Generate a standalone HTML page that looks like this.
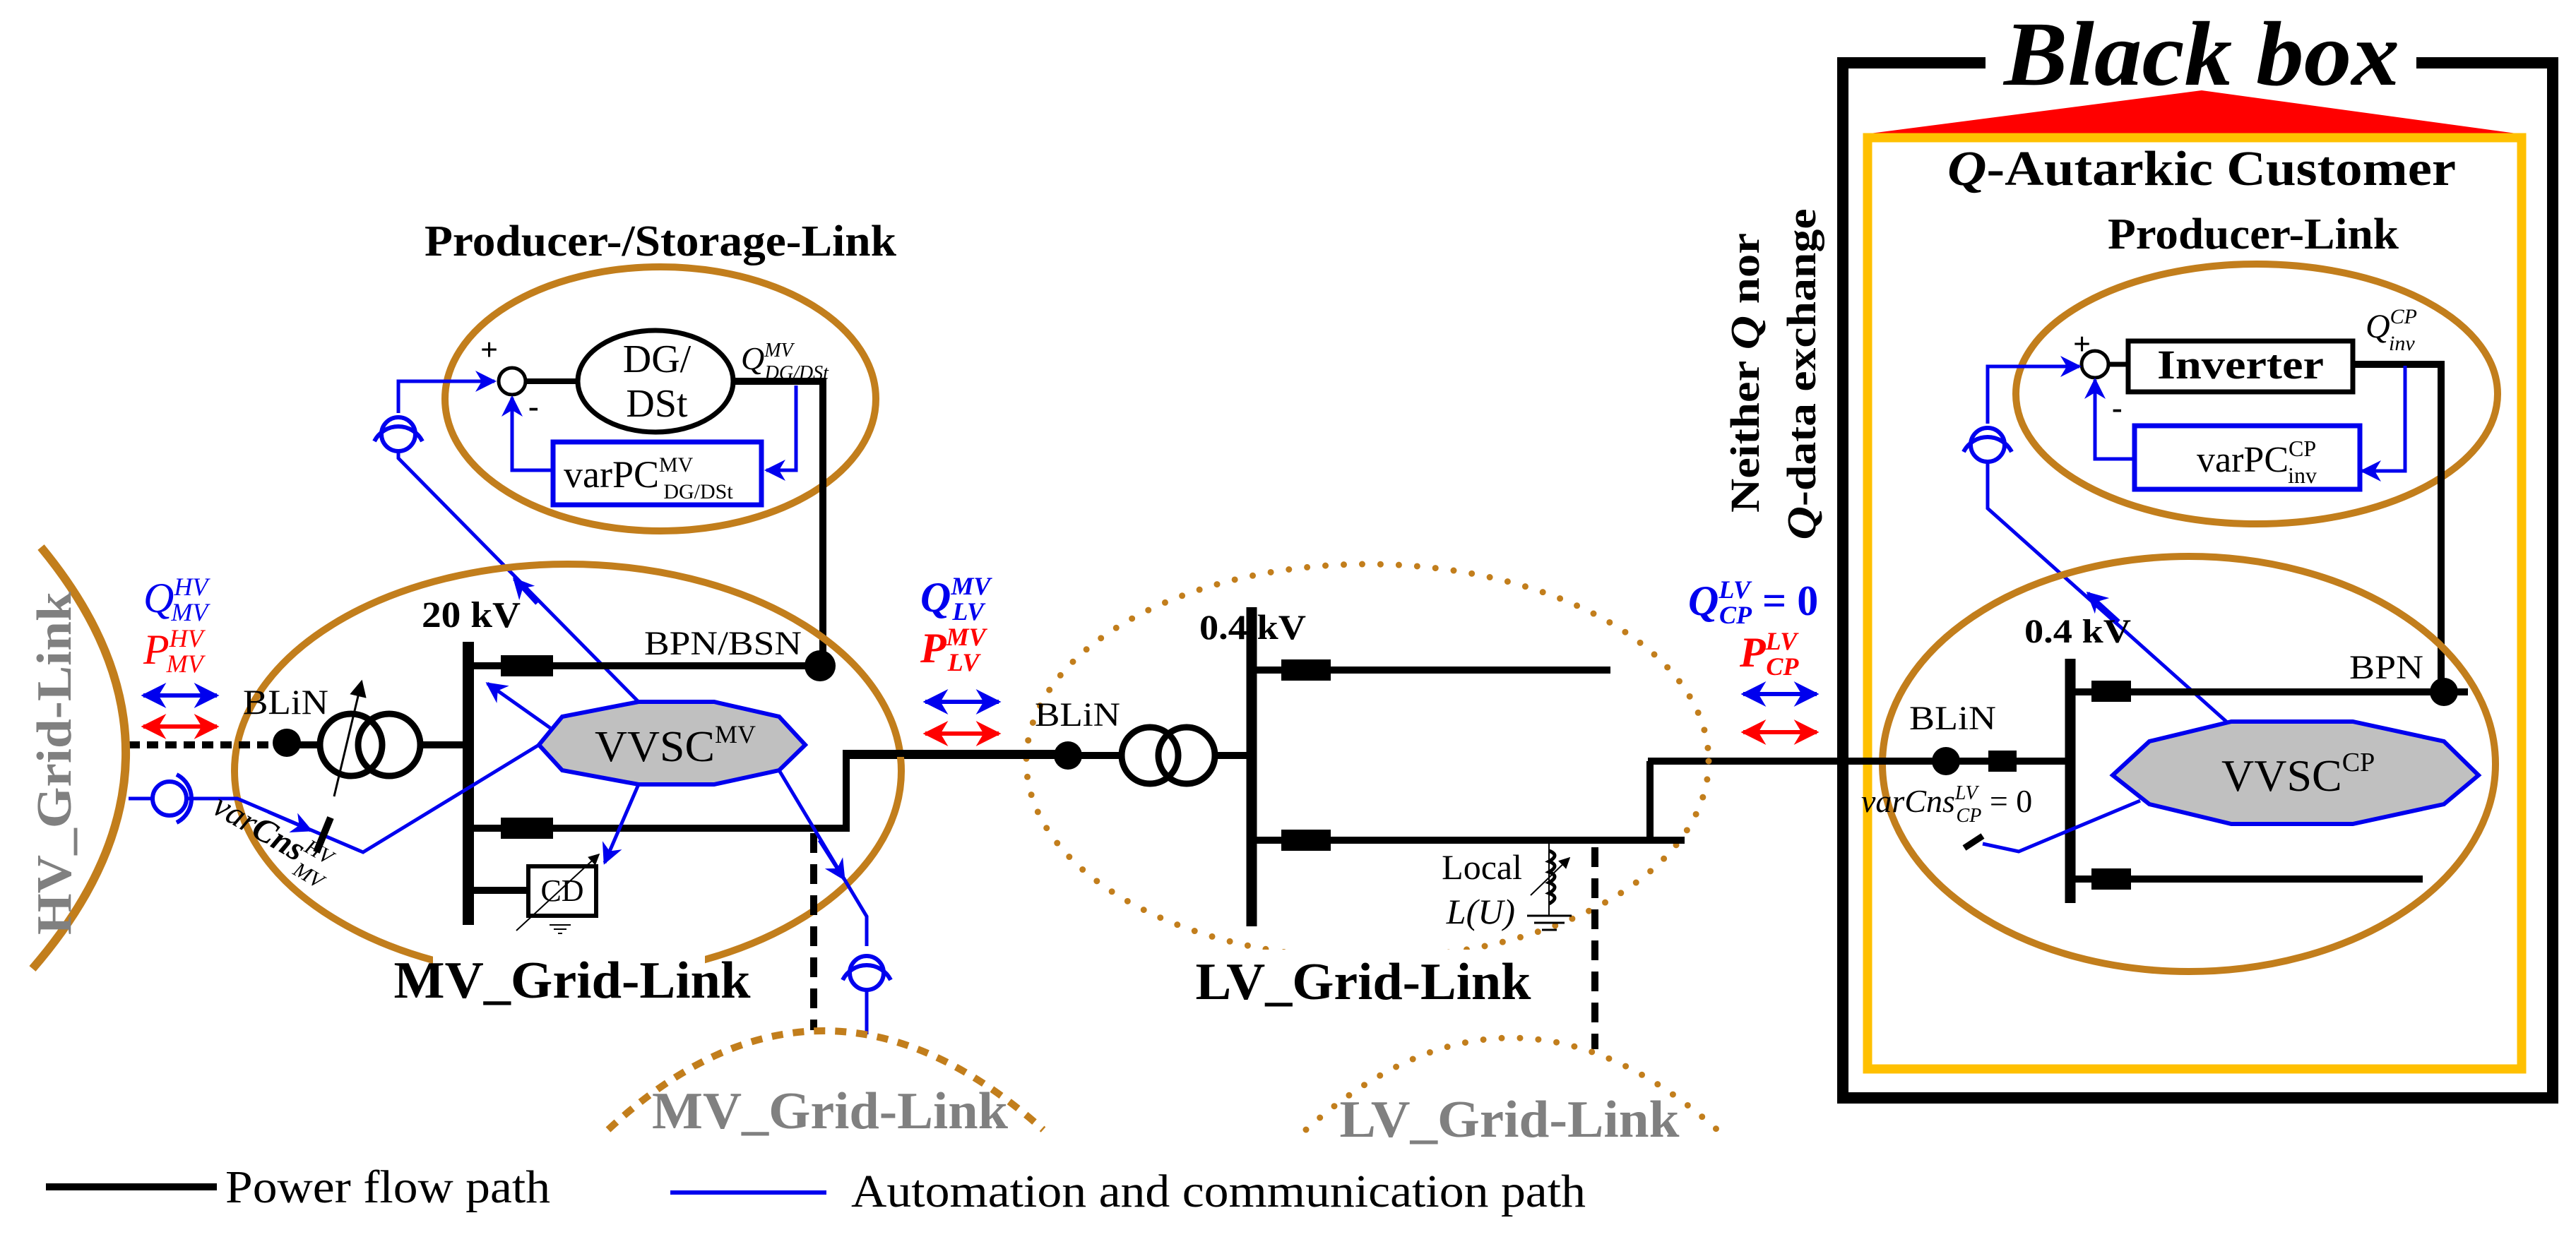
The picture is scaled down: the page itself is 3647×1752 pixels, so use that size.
<!DOCTYPE html>
<html><head><meta charset="utf-8"><style>html,body{margin:0;padding:0;background:#fff}svg{display:block}</style></head>
<body>
<svg xmlns="http://www.w3.org/2000/svg" width="3647" height="1752" viewBox="0 0 3647 1752" font-family="'Liberation Serif', serif">
<defs>
<marker id="ab" viewBox="0 0 10 10" refX="9" refY="5" markerWidth="6" markerHeight="6" orient="auto-start-reverse" markerUnits="strokeWidth"><path d="M0,0 L10,5 L0,10 L3,5 z" fill="#0000EE"/></marker>
<marker id="ar" viewBox="0 0 10 10" refX="9" refY="5" markerWidth="6" markerHeight="6" orient="auto-start-reverse" markerUnits="strokeWidth"><path d="M0,0 L10,5 L0,10 L3,5 z" fill="#FF0000"/></marker>
<marker id="ak" viewBox="0 0 10 10" refX="9" refY="5" markerWidth="8" markerHeight="8" orient="auto" markerUnits="strokeWidth"><path d="M0,0 L10,5 L0,10 z" fill="#000"/></marker>
</defs>

<!-- ===== Black box ===== -->
<path d="M2811,89 H2609 V1555 H3614 V89 H3421" fill="none" stroke="#000" stroke-width="16"/>
<text x="3117" y="120" font-size="130" font-weight="bold" font-style="italic" text-anchor="middle" textLength="560" lengthAdjust="spacingAndGlyphs">Black box</text>
<polygon points="2640,190 3117,128 3570,190" fill="#FF0000"/>
<rect x="2644" y="195" width="926" height="1319" fill="none" stroke="#FFC000" stroke-width="13"/>
<text x="3117" y="262" font-size="70" font-weight="bold" text-anchor="middle" textLength="720" lengthAdjust="spacingAndGlyphs"><tspan font-style="italic">Q</tspan>-Autarkic Customer</text>
<text x="3190" y="352" font-size="62" font-weight="bold" text-anchor="middle" textLength="412" lengthAdjust="spacingAndGlyphs">Producer-Link</text>

<!-- Producer-Link -->
<ellipse cx="3195" cy="558" rx="341" ry="184" fill="none" stroke="#C27E1C" stroke-width="10"/>
<rect x="3013" y="483" width="318" height="72" fill="#fff" stroke="#000" stroke-width="7"/>
<text x="3172" y="536" font-size="58" font-weight="bold" text-anchor="middle" textLength="236" lengthAdjust="spacingAndGlyphs">Inverter</text>
<circle cx="2966" cy="516" r="19" fill="#fff" stroke="#000" stroke-width="5"/>
<line x1="2985" y1="516" x2="3013" y2="516" stroke="#000" stroke-width="7"/>
<text x="2935" y="502" font-size="44" font-weight="bold">+</text>
<text x="2990" y="592" font-size="44" font-weight="bold">-</text>
<polyline points="3331,516 3456,516 3456,980" fill="none" stroke="#000" stroke-width="10"/>
<text x="3349" y="478" font-size="48" font-style="italic">Q<tspan font-size="30" dy="-20">CP</tspan><tspan font-size="30" dx="-40" dy="38">inv</tspan></text>
<rect x="3022" y="603" width="319" height="90" fill="#fff" stroke="#0000EE" stroke-width="7"/>
<text x="3110" y="668" font-size="52">varPC<tspan font-size="32" dy="-22">CP</tspan><tspan font-size="32" dx="-40" dy="38">inv</tspan></text>
<polyline points="3405,518 3405,667 3344,667" fill="none" stroke="#0000EE" stroke-width="5" marker-end="url(#ab)"/>
<polyline points="3022,650 2966,650 2966,538" fill="none" stroke="#0000EE" stroke-width="5" marker-end="url(#ab)"/>
<polyline points="2814,600 2814,519 2944,519" fill="none" stroke="#0000EE" stroke-width="5" marker-end="url(#ab)"/>
<g fill="none" stroke="#0000EE" stroke-width="6">
<circle cx="2814" cy="630" r="24"/>
<path d="M2780,640 A38,38 0 0 1 2848,640"/>
</g>
<polyline points="2814,654 2814,720 3152,1022" fill="none" stroke="#0000EE" stroke-width="5"/>
<line x1="3000" y1="880" x2="2956" y2="840" stroke="#0000EE" stroke-width="5" marker-end="url(#ab)"/>

<!-- CP grid link -->
<ellipse cx="3099" cy="1082" rx="434" ry="294" fill="none" stroke="#C27E1C" stroke-width="10"/>
<line x1="2931" y1="933" x2="2931" y2="1279" stroke="#000" stroke-width="15"/>
<line x1="2931" y1="980" x2="3494" y2="980" stroke="#000" stroke-width="10"/>
<rect x="2961" y="964" width="56" height="30" fill="#000"/>
<circle cx="3460" cy="980" r="20" fill="#000"/>
<text x="3326" y="961" font-size="48" textLength="105" lengthAdjust="spacingAndGlyphs">BPN</text>
<line x1="2931" y1="1245" x2="3430" y2="1245" stroke="#000" stroke-width="10"/>
<rect x="2961" y="1230" width="56" height="30" fill="#000"/>
<line x1="2333" y1="1078" x2="2931" y2="1078" stroke="#000" stroke-width="10"/>
<rect x="2815" y="1063" width="40" height="30" fill="#000"/>
<circle cx="2755" cy="1078" r="20" fill="#000"/>
<text x="2703" y="1033" font-size="48" textLength="123" lengthAdjust="spacingAndGlyphs">BLiN</text>
<text x="2866" y="910" font-size="48" font-weight="bold" textLength="151" lengthAdjust="spacingAndGlyphs">0.4 kV</text>
<polygon points="2991,1098 3043,1050 3159,1022 3331,1022 3460,1050 3509,1098 3460,1139 3331,1167 3159,1167 3043,1139" fill="#C0C0C0" stroke="#0000EE" stroke-width="6"/>
<text x="3145" y="1120" font-size="64">VVSC<tspan font-size="38" dy="-28">CP</tspan></text>
<text x="2635" y="1150" font-size="46" font-style="italic">varCns<tspan font-size="28" dy="-18">LV</tspan><tspan font-size="28" dx="-30" dy="32">CP</tspan><tspan font-size="46" font-style="normal" dy="-14"> = 0</tspan></text>
<line x1="2781" y1="1201" x2="2807" y2="1184" stroke="#000" stroke-width="9"/>
<polyline points="2807,1195 2858,1206 3030,1134" fill="none" stroke="#0000EE" stroke-width="5"/>

<!-- Neither Q nor -->
<text transform="translate(2490,528) rotate(-90)" font-size="58" font-weight="bold" text-anchor="middle" textLength="396" lengthAdjust="spacingAndGlyphs">Neither <tspan font-style="italic">Q</tspan> nor</text>
<text transform="translate(2570,530) rotate(-90)" font-size="58" font-weight="bold" text-anchor="middle" textLength="469" lengthAdjust="spacingAndGlyphs"><tspan font-style="italic">Q</tspan>-data exchange</text>
<text x="2390" y="871" font-size="60" font-weight="bold" fill="#0000EE"><tspan font-style="italic">Q</tspan><tspan font-size="36" font-style="italic" dy="-24">LV</tspan><tspan font-size="36" font-style="italic" dx="-44" dy="36">CP</tspan><tspan dy="-12"> = 0</tspan></text>
<text x="2463" y="944" font-size="60" font-weight="bold" font-style="italic" fill="#FF0000">P<tspan font-size="36" dy="-24">LV</tspan><tspan font-size="36" dx="-44" dy="36">CP</tspan></text>
<line x1="2468" y1="983" x2="2572" y2="983" stroke="#0000EE" stroke-width="6" marker-start="url(#ab)" marker-end="url(#ab)"/>
<line x1="2468" y1="1037" x2="2572" y2="1037" stroke="#FF0000" stroke-width="6" marker-start="url(#ar)" marker-end="url(#ar)"/>

<!-- ===== LV grid link ===== -->
<ellipse cx="1936" cy="1078" rx="483" ry="279" fill="none" stroke="#C27E1C" stroke-width="9" stroke-dasharray="0 26" stroke-linecap="round"/>
<line x1="1198" y1="1070" x2="1589" y2="1070" stroke="#000" stroke-width="10"/>
<circle cx="1512" cy="1070" r="20" fill="#000"/>
<text x="1465" y="1028" font-size="48" textLength="121" lengthAdjust="spacingAndGlyphs">BLiN</text>
<g fill="none" stroke="#000" stroke-width="9"><circle cx="1628" cy="1070" r="40"/><circle cx="1680" cy="1070" r="40"/></g>
<line x1="1720" y1="1070" x2="1772" y2="1070" stroke="#000" stroke-width="10"/>
<line x1="1772" y1="860" x2="1772" y2="1312" stroke="#000" stroke-width="15"/>
<line x1="1772" y1="949" x2="2280" y2="949" stroke="#000" stroke-width="10"/>
<rect x="1814" y="934" width="70" height="30" fill="#000"/>
<line x1="1772" y1="1190" x2="2385" y2="1190" stroke="#000" stroke-width="10"/>
<rect x="1814" y="1175" width="70" height="30" fill="#000"/>
<polyline points="2336,1190 2336,1078" fill="none" stroke="#000" stroke-width="10"/>
<text x="1698" y="905" font-size="50" font-weight="bold" textLength="151" lengthAdjust="spacingAndGlyphs">0.4 kV</text>
<line x1="2193" y1="1190" x2="2193" y2="1297" stroke="#000" stroke-width="2"/>
<path d="M2193,1205 q16,6 0,15 q16,6 0,15 q16,6 0,15 q16,6 0,15 q16,6 0,15" fill="none" stroke="#000" stroke-width="5"/>
<line x1="2167" y1="1268" x2="2222" y2="1215" stroke="#000" stroke-width="2" marker-end="url(#ak)"/>
<g stroke="#000" stroke-width="3"><line x1="2162" y1="1297" x2="2225" y2="1297"/><line x1="2172" y1="1307" x2="2215" y2="1307"/><line x1="2183" y1="1317" x2="2204" y2="1317"/></g>
<text x="2155" y="1245" font-size="50" text-anchor="end">Local</text>
<text x="2145" y="1308" font-size="50" font-style="italic" text-anchor="end">L(U)</text>
<line x1="2258" y1="1200" x2="2258" y2="1486" stroke="#000" stroke-width="10" stroke-dasharray="28 16"/>
<rect x="1680" y="1345" width="500" height="40" fill="#fff"/>
<text x="1930" y="1415" font-size="74" font-weight="bold" text-anchor="middle" textLength="475" lengthAdjust="spacingAndGlyphs">LV_Grid-Link</text>
<path d="M1849,1600 Q2140,1340 2431,1600" fill="none" stroke="#C27E1C" stroke-width="9" stroke-dasharray="0 26" stroke-linecap="round"/>
<text x="2137" y="1610" font-size="74" font-weight="bold" fill="#808080" text-anchor="middle" textLength="481" lengthAdjust="spacingAndGlyphs">LV_Grid-Link</text>
<text x="1303" y="866" font-size="60" font-style="italic" font-weight="bold" fill="#0000EE">Q<tspan font-size="36" dy="-24">MV</tspan><tspan font-size="36" dx="-54" dy="36">LV</tspan></text>
<text x="1303" y="938" font-size="60" font-style="italic" font-weight="bold" fill="#FF0000">P<tspan font-size="36" dy="-24">MV</tspan><tspan font-size="36" dx="-54" dy="36">LV</tspan></text>
<line x1="1310" y1="994" x2="1414" y2="994" stroke="#0000EE" stroke-width="6" marker-start="url(#ab)" marker-end="url(#ab)"/>
<line x1="1310" y1="1039" x2="1414" y2="1039" stroke="#FF0000" stroke-width="6" marker-start="url(#ar)" marker-end="url(#ar)"/>

<!-- ===== Producer/Storage link ===== -->
<text x="935" y="362" font-size="62" font-weight="bold" text-anchor="middle" textLength="668" lengthAdjust="spacingAndGlyphs">Producer-/Storage-Link</text>
<ellipse cx="935" cy="565" rx="305" ry="187" fill="none" stroke="#C27E1C" stroke-width="10"/>
<circle cx="725" cy="540" r="19" fill="#fff" stroke="#000" stroke-width="5"/>
<line x1="744" y1="540" x2="818" y2="540" stroke="#000" stroke-width="8"/>
<ellipse cx="928" cy="540" rx="110" ry="72" fill="#fff" stroke="#000" stroke-width="7"/>
<text x="930" y="527" font-size="56" text-anchor="middle">DG/</text>
<text x="930" y="590" font-size="56" text-anchor="middle">DSt</text>
<text x="680" y="510" font-size="44" font-weight="bold">+</text>
<text x="748" y="590" font-size="44" font-weight="bold">-</text>
<polyline points="1038,540 1165,540 1165,943" fill="none" stroke="#000" stroke-width="10"/>
<text x="1049" y="523" font-size="46" font-style="italic">Q<tspan font-size="28" dy="-18">MV</tspan><tspan font-size="28" dx="-40" dy="32">DG/DSt</tspan></text>
<rect x="783" y="626" width="295" height="89" fill="#fff" stroke="#0000EE" stroke-width="7"/>
<text x="798" y="690" font-size="54">varPC<tspan font-size="30" dy="-22">MV</tspan><tspan font-size="30" dx="-42" dy="38">DG/DSt</tspan></text>
<polyline points="1127,546 1127,666 1085,666" fill="none" stroke="#0000EE" stroke-width="5" marker-end="url(#ab)"/>
<polyline points="783,666 725,666 725,563" fill="none" stroke="#0000EE" stroke-width="5" marker-end="url(#ab)"/>
<polyline points="564,585 564,540 700,540" fill="none" stroke="#0000EE" stroke-width="5" marker-end="url(#ab)"/>
<g fill="none" stroke="#0000EE" stroke-width="6">
<circle cx="564" cy="615" r="24"/>
<path d="M530,625 A38,38 0 0 1 598,625"/>
</g>
<polyline points="564,640 564,649 904,994" fill="none" stroke="#0000EE" stroke-width="5"/>
<line x1="760" y1="855" x2="728" y2="820" stroke="#0000EE" stroke-width="5" marker-end="url(#ab)"/>

<!-- ===== MV grid link ===== -->
<ellipse cx="804" cy="1092" rx="472" ry="293" fill="none" stroke="#C27E1C" stroke-width="10"/>
<rect x="613" y="1340" width="385" height="60" fill="#fff"/>
<text x="810" y="1413" font-size="74" font-weight="bold" text-anchor="middle" textLength="505" lengthAdjust="spacingAndGlyphs">MV_Grid-Link</text>
<text x="597" y="888" font-size="52" font-weight="bold" textLength="140" lengthAdjust="spacingAndGlyphs">20 kV</text>
<line x1="663" y1="909" x2="663" y2="1310" stroke="#000" stroke-width="16"/>
<line x1="663" y1="943" x2="1161" y2="943" stroke="#000" stroke-width="10"/>
<rect x="709" y="928" width="74" height="30" fill="#000"/>
<circle cx="1161" cy="943" r="22" fill="#000"/>
<text x="912" y="927" font-size="48" textLength="223" lengthAdjust="spacingAndGlyphs">BPN/BSN</text>
<polyline points="663,1173 1198,1173 1198,1067 1512,1067" fill="none" stroke="#000" stroke-width="10"/>
<rect x="709" y="1158" width="74" height="30" fill="#000"/>
<line x1="663" y1="1261" x2="746" y2="1261" stroke="#000" stroke-width="10"/>
<rect x="748" y="1227" width="96" height="70" fill="#fff" stroke="#000" stroke-width="6"/>
<text x="796" y="1276" font-size="44" text-anchor="middle">CD</text>
<line x1="731" y1="1318" x2="848" y2="1210" stroke="#000" stroke-width="2" marker-end="url(#ak)"/>
<g stroke="#000" stroke-width="2"><line x1="778" y1="1310" x2="808" y2="1310"/><line x1="784" y1="1316" x2="802" y2="1316"/><line x1="790" y1="1322" x2="796" y2="1322"/></g>
<line x1="1152" y1="1180" x2="1152" y2="1459" stroke="#000" stroke-width="10" stroke-dasharray="28 16"/>
<!-- HV side -->
<line x1="182" y1="1055" x2="406" y2="1055" stroke="#000" stroke-width="10" stroke-dasharray="16 10"/>
<circle cx="406" cy="1052" r="20" fill="#000"/>
<line x1="406" y1="1055" x2="455" y2="1055" stroke="#000" stroke-width="10"/>
<text x="344" y="1011" font-size="50" textLength="121" lengthAdjust="spacingAndGlyphs">BLiN</text>
<g fill="none" stroke="#000" stroke-width="9"><circle cx="497" cy="1055" r="44"/><circle cx="551" cy="1055" r="44"/></g>
<line x1="473" y1="1128" x2="512" y2="965" stroke="#000" stroke-width="3" marker-end="url(#ak)"/>
<line x1="595" y1="1055" x2="663" y2="1055" stroke="#000" stroke-width="10"/>
<polygon points="763,1055 796,1015 904,994 1011,994 1103,1015 1140,1055 1103,1091 1011,1111 904,1111 796,1091" fill="#C0C0C0" stroke="#0000EE" stroke-width="6"/>
<text x="842" y="1078" font-size="62" textLength="170" lengthAdjust="spacingAndGlyphs">VVSC</text>
<text x="1012" y="1052" font-size="36">MV</text>
<line x1="779" y1="1031" x2="690" y2="968" stroke="#0000EE" stroke-width="5" marker-end="url(#ab)"/>
<line x1="904" y1="1111" x2="856" y2="1222" stroke="#0000EE" stroke-width="5" marker-end="url(#ab)"/>
<polyline points="1103,1091 1227,1298 1227,1340" fill="none" stroke="#0000EE" stroke-width="5"/>
<line x1="1160" y1="1190" x2="1195" y2="1245" stroke="#0000EE" stroke-width="5" marker-end="url(#ab)"/>
<g fill="none" stroke="#0000EE" stroke-width="6">
<circle cx="1227" cy="1378" r="24"/>
<path d="M1193,1388 A38,38 0 0 1 1261,1388"/>
</g>
<line x1="1227" y1="1402" x2="1227" y2="1465" stroke="#0000EE" stroke-width="5"/>
<!-- varCns HV -->
<line x1="182" y1="1131" x2="216" y2="1131" stroke="#0000EE" stroke-width="5"/>
<g fill="none" stroke="#0000EE" stroke-width="6">
<circle cx="240" cy="1131" r="24"/>
<path d="M250,1097 A38,38 0 0 1 250,1165"/>
</g>
<polyline points="262,1131 336,1131 514,1207 763,1055" fill="none" stroke="#0000EE" stroke-width="5"/>
<line x1="380" y1="1150" x2="440" y2="1176" stroke="#0000EE" stroke-width="5" marker-end="url(#ab)"/>
<line x1="448" y1="1207" x2="468" y2="1158" stroke="#000" stroke-width="10"/>
<text transform="translate(298,1150) rotate(30)" font-size="48" font-style="italic">var<tspan font-weight="bold">Cns</tspan><tspan font-size="30" dy="-18">HV</tspan><tspan font-size="30" dx="-38" dy="36">MV</tspan></text>
<path d="M58,775 Q304,1073 46,1372" fill="none" stroke="#C27E1C" stroke-width="12"/>
<text transform="translate(100,1081) rotate(-90)" font-size="70" font-weight="bold" fill="#808080" text-anchor="middle" textLength="486" lengthAdjust="spacingAndGlyphs">HV_Grid-Link</text>
<text x="203" y="867" font-size="60" font-style="italic" fill="#0000EE">Q<tspan font-size="36" dy="-24">HV</tspan><tspan font-size="36" dx="-52" dy="36">MV</tspan></text>
<text x="203" y="940" font-size="60" font-style="italic" fill="#FF0000">P<tspan font-size="36" dy="-24">HV</tspan><tspan font-size="36" dx="-52" dy="36">MV</tspan></text>
<line x1="203" y1="985" x2="307" y2="985" stroke="#0000EE" stroke-width="6" marker-start="url(#ab)" marker-end="url(#ab)"/>
<line x1="203" y1="1029" x2="307" y2="1029" stroke="#FF0000" stroke-width="6" marker-start="url(#ar)" marker-end="url(#ar)"/>

<!-- lower MV grid link -->
<path d="M861,1600 Q1163,1320 1477,1600" fill="none" stroke="#C27E1C" stroke-width="10" stroke-dasharray="16 14"/>
<text x="1175" y="1598" font-size="74" font-weight="bold" fill="#808080" text-anchor="middle" textLength="504" lengthAdjust="spacingAndGlyphs">MV_Grid-Link</text>

<!-- legend -->
<line x1="65" y1="1681" x2="307" y2="1681" stroke="#000" stroke-width="10"/>
<text x="319" y="1703" font-size="66" textLength="460" lengthAdjust="spacingAndGlyphs">Power flow path</text>
<line x1="949" y1="1689" x2="1170" y2="1689" stroke="#0000EE" stroke-width="6"/>
<text x="1205" y="1709" font-size="66" textLength="1040" lengthAdjust="spacingAndGlyphs">Automation and communication path</text>
</svg>
</body></html>
